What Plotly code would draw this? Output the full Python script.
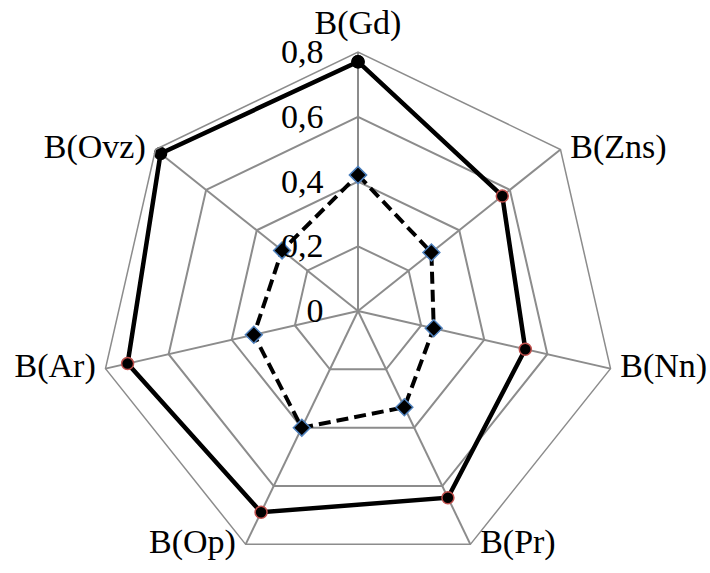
import plotly.graph_objects as go

categories = ["B(Gd)", "B(Zns)", "B(Nn)", "B(Pr)", "B(Op)", "B(Ar)", "B(Ovz)"]
series_solid = [0.77, 0.57, 0.53, 0.64, 0.69, 0.73, 0.78]
series_dashed = [0.42, 0.29, 0.24, 0.33, 0.40, 0.33, 0.30]
tick_vals = [0, 0.2, 0.4, 0.6, 0.8]
axis_max = 0.8

theta = categories + categories[:1]
r_solid = series_solid + series_solid[:1]
r_dashed = series_dashed + series_dashed[:1]

fig = go.Figure()
fig.add_trace(go.Scatterpolar(
    r=r_dashed, theta=theta, mode="lines+markers",
    line=dict(color="black", width=4, dash="12px,6px"),
    marker=dict(symbol="diamond", size=13, color="black",
                line=dict(color="#4F81BD", width=1.5)),
    showlegend=False,
))
fig.add_trace(go.Scatterpolar(
    r=r_solid, theta=theta, mode="lines+markers",
    line=dict(color="black", width=4.5),
    marker=dict(symbol="circle", size=12, color="black",
                line=dict(color=["black", "#C0504D", "#C0504D", "#C0504D",
                                 "#C0504D", "#C0504D", "black", "black"],
                          width=1.5)),
    showlegend=False,
))
# category labels at the outer vertices (Excel-style placement)
fig.add_trace(go.Scatterpolar(
    r=[axis_max] * len(categories), theta=categories,
    mode="markers+text", text=categories,
    textposition=["top center", "middle right", "middle right", "middle right",
                  "middle left", "middle left", "middle left"],
    textfont=dict(size=34, color="black"),
    marker=dict(size=14, color="rgba(0,0,0,0)"),
    cliponaxis=False, hoverinfo="skip", showlegend=False,
))

fig.update_layout(
    width=710, height=573,
    margin=dict(l=0, r=0, t=0, b=0),
    paper_bgcolor="white",
    separators=", ",
    font=dict(family="Liberation Serif, Times New Roman, serif", size=34, color="black"),
    polar=dict(
        domain=dict(x=[99 / 710, 617 / 710], y=[1 - 570 / 573, 1 - 52 / 573]),
        bgcolor="white",
        gridshape="linear",
        angularaxis=dict(
            direction="clockwise", rotation=90,
            categoryorder="array", categoryarray=categories,
            showline=True, linecolor="#8c8c8c", linewidth=1.5,
            gridcolor="#8c8c8c", gridwidth=1.5,
            ticks="", showticklabels=False,
        ),
        radialaxis=dict(
            range=[0, axis_max], tickvals=tick_vals,
            angle=90, side="counterclockwise", tickangle=90,
            showline=False, gridcolor="#8c8c8c", gridwidth=1.5,
            ticks="outside", ticklen=22, tickcolor="rgba(0,0,0,0)",
            tickfont=dict(size=34),
        ),
    ),
)

fig.write_html("out.html", config={"displayModeBar": False},
               post_script="document.body.style.margin='0';")
